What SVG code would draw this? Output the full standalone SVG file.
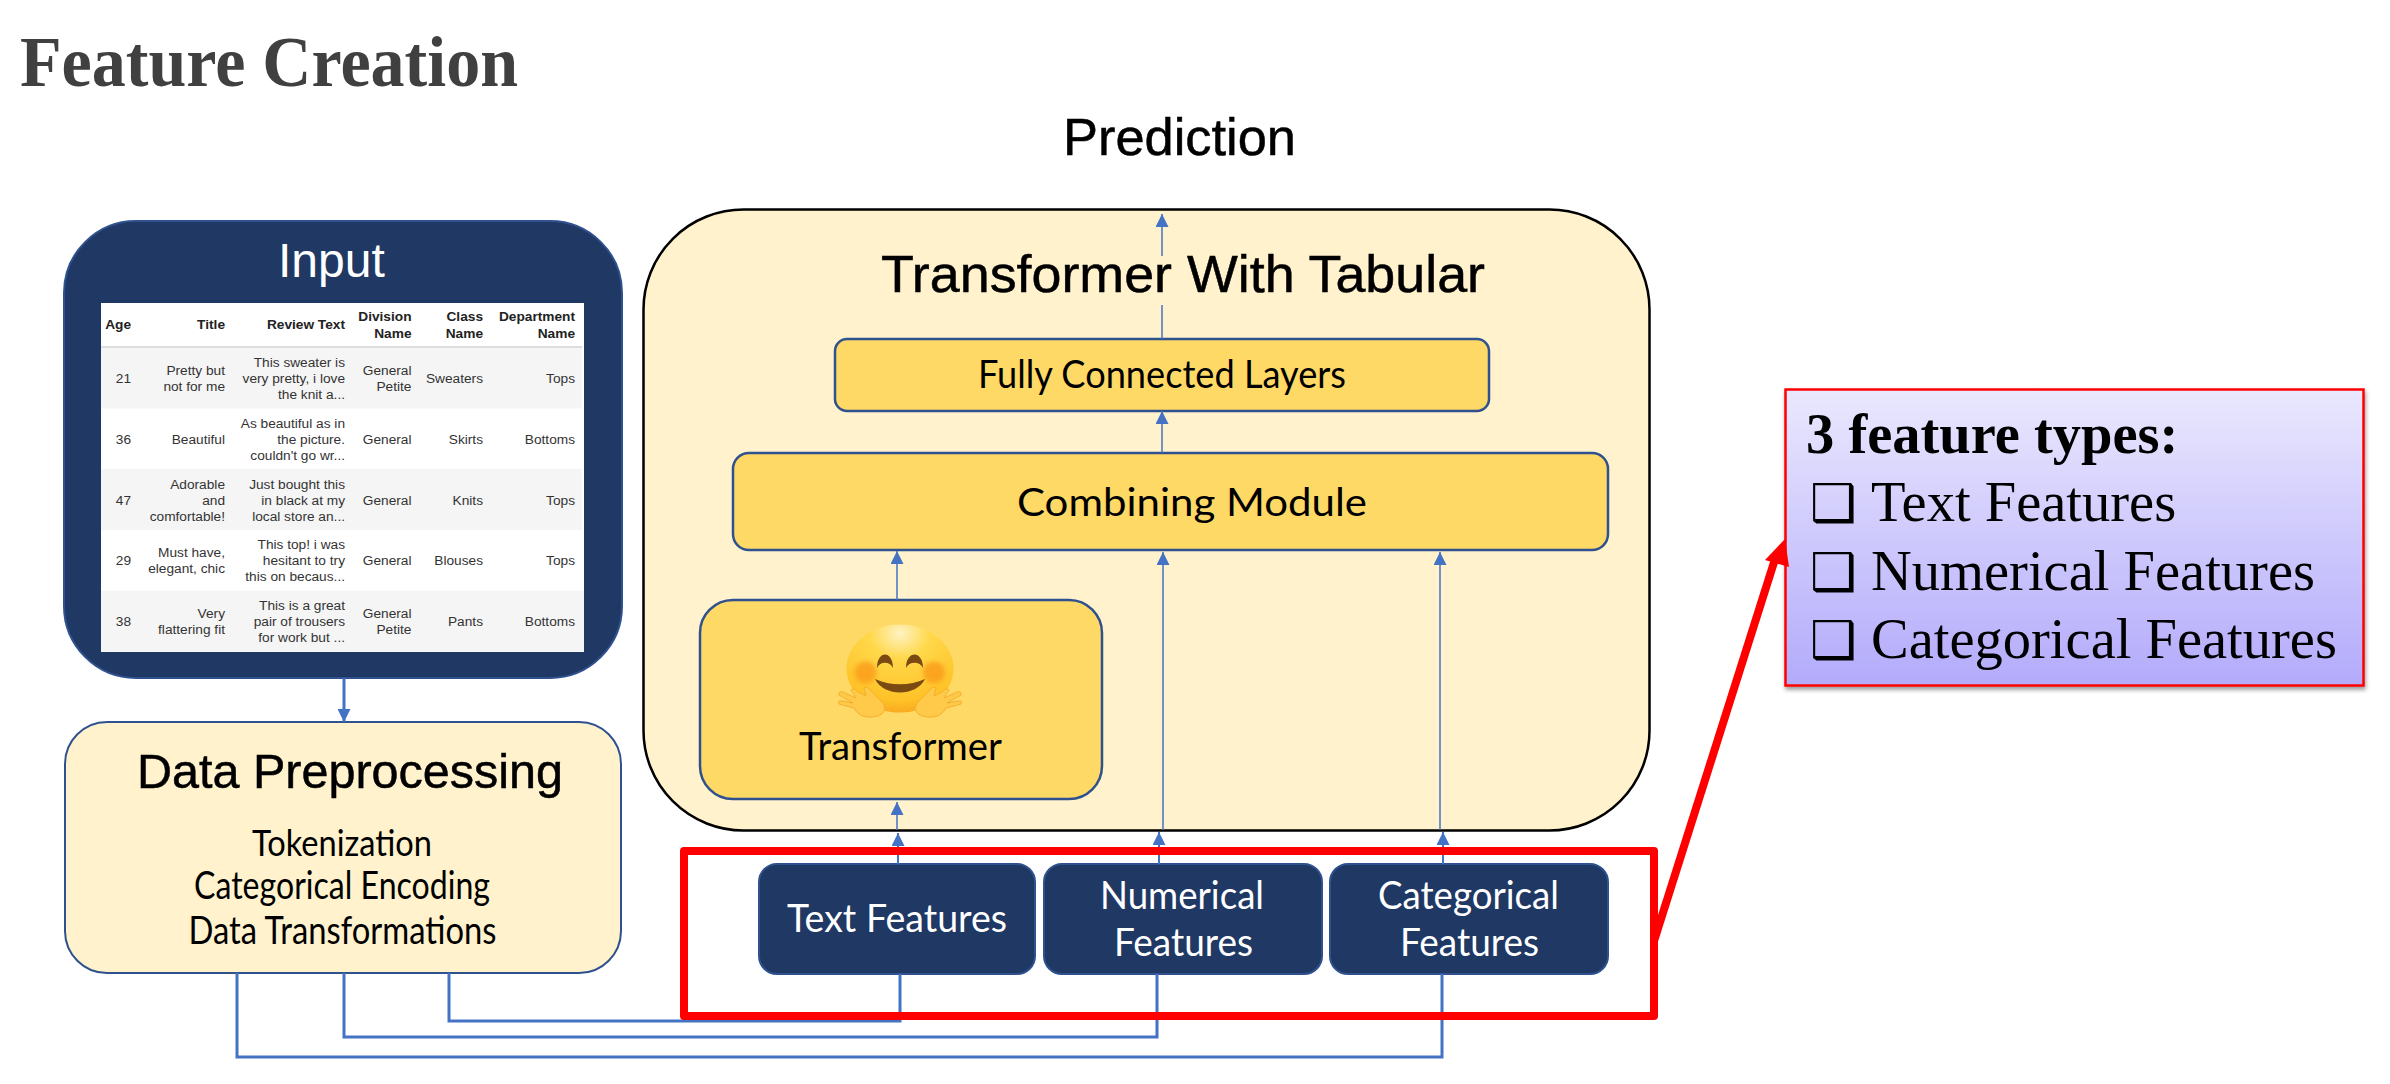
<svg xmlns="http://www.w3.org/2000/svg" width="2390" height="1084" viewBox="0 0 2390 1084">
<style>
text{font-family:"Liberation Sans",Arial,sans-serif}
.ser{font-family:"Liberation Serif","Times New Roman",serif}
.cal{font-family:Lato,"Open Sans",sans-serif;font-size:38px;fill:#000;text-anchor:start}
.w{fill:#fff}
.hd{font-size:52px;fill:#000;stroke:#000;stroke-width:.5}
.nav{fill:#203864;stroke:#2F528F;stroke-width:2}
.cr{fill:#FFF2CC;stroke:#2F528F;stroke-width:2}
.yel{fill:#FFD966;stroke:#2F528F;stroke-width:2.5}
.tb text{font-size:13.7px;fill:#333;text-anchor:end}
.tb .b{font-weight:bold;fill:#222}
.con{fill:none;stroke:#4472C4;stroke-width:3}
.thin{fill:none;stroke:#4472C4;stroke-width:1.5}
.cl{font-size:56.5px;fill:#000}
.ck{font-family:"DejaVu Sans",sans-serif;font-size:52px;fill:#000;font-weight:bold}
</style>
<defs>
<marker id="ah" markerUnits="userSpaceOnUse" markerWidth="13" markerHeight="13" refX="13" refY="6.5" orient="auto"><path d="M0 0L13 6.5L0 13Z" fill="#4472C4"/></marker>
<linearGradient id="cg" x1="0" y1="0" x2="0" y2="1"><stop offset="0" stop-color="#EAE8FE"/><stop offset="1" stop-color="#B3ABFB"/></linearGradient>
<radialGradient id="fg" cx="0.5" cy="0.1" r="0.95"><stop offset="0" stop-color="#FFF3C4"/><stop offset="0.3" stop-color="#FFD84A"/><stop offset="0.8" stop-color="#FFC227"/><stop offset="1" stop-color="#F7A21E"/></radialGradient>
<filter id="sh" x="-5%" y="-5%" width="110%" height="115%"><feDropShadow dx="1" dy="3" stdDeviation="2" flood-color="#000" flood-opacity="0.4"/></filter>
<filter id="bl" x="-30%" y="-30%" width="160%" height="160%"><feGaussianBlur stdDeviation="2"/></filter>
</defs>
<rect width="2390" height="1084" fill="#fff"/>

<g id="title"><text class="ser" x="20" y="86" font-size="71" font-weight="bold" fill="#404040" textLength="498" lengthAdjust="spacingAndGlyphs">Feature Creation</text></g>
<g id="prediction"><text class="hd" x="1063" y="155" textLength="233" lengthAdjust="spacingAndGlyphs">Prediction</text></g>

<g id="input">
<rect class="nav" x="64" y="221" width="558" height="457" rx="72"/>
<text class="w" x="278" y="277" font-size="48">Input</text>
<g class="tb">
<rect x="101" y="303" width="483" height="349" fill="#fff"/>
<rect x="101" y="346" width="481" height="2.5" fill="#ddd"/>
<rect x="101" y="348" width="481" height="60.5" fill="#f5f5f5"/>
<rect x="101" y="469" width="481" height="61" fill="#f5f5f5"/>
<rect x="101" y="590.5" width="483" height="61" fill="#f5f5f5"/>
<text class="b" x="131" y="329">Age</text><text class="b" x="225" y="329">Title</text><text class="b" x="345" y="329">Review Text</text>
<text class="b" x="411.5" y="321">Division</text><text class="b" x="411.5" y="337.5">Name</text>
<text class="b" x="483" y="321">Class</text><text class="b" x="483" y="337.5">Name</text>
<text class="b" x="575" y="321">Department</text><text class="b" x="575" y="337.5">Name</text>

<text x="131" y="383">21</text><text x="225" y="375">Pretty but</text><text x="225" y="391">not for me</text>
<text x="345" y="367">This sweater is</text><text x="345" y="383">very pretty, i love</text><text x="345" y="399">the knit a...</text>
<text x="411.5" y="375">General</text><text x="411.5" y="391">Petite</text><text x="483" y="383">Sweaters</text><text x="575" y="383">Tops</text>

<text x="131" y="444">36</text><text x="225" y="444">Beautiful</text>
<text x="345" y="428">As beautiful as in</text><text x="345" y="444">the picture.</text><text x="345" y="460">couldn't go wr...</text>
<text x="411.5" y="444">General</text><text x="483" y="444">Skirts</text><text x="575" y="444">Bottoms</text>

<text x="131" y="505">47</text><text x="225" y="489">Adorable</text><text x="225" y="505">and</text><text x="225" y="521">comfortable!</text>
<text x="345" y="489">Just bought this</text><text x="345" y="505">in black at my</text><text x="345" y="521">local store an...</text>
<text x="411.5" y="505">General</text><text x="483" y="505">Knits</text><text x="575" y="505">Tops</text>

<text x="131" y="565">29</text><text x="225" y="557">Must have,</text><text x="225" y="573">elegant, chic</text>
<text x="345" y="549">This top! i was</text><text x="345" y="565">hesitant to try</text><text x="345" y="581">this on becaus...</text>
<text x="411.5" y="565">General</text><text x="483" y="565">Blouses</text><text x="575" y="565">Tops</text>

<text x="131" y="626">38</text><text x="225" y="618">Very</text><text x="225" y="634">flattering fit</text>
<text x="345" y="610">This is a great</text><text x="345" y="626">pair of trousers</text><text x="345" y="642">for work but ...</text>
<text x="411.5" y="618">General</text><text x="411.5" y="634">Petite</text><text x="483" y="626">Pants</text><text x="575" y="626">Bottoms</text>
</g>
</g>

<g id="data-preprocessing">
<rect class="cr" x="65" y="722" width="556" height="251" rx="42"/>
<text class="hd" x="137" y="788" style="font-size:48px" textLength="426" lengthAdjust="spacingAndGlyphs">Data Preprocessing</text>
<text class="cal" x="252" y="856" textLength="180" lengthAdjust="spacingAndGlyphs" style="font-size:36px">Tokenization</text>
<text class="cal" x="194" y="899" textLength="296" lengthAdjust="spacingAndGlyphs">Categorical Encoding</text>
<text class="cal" x="188.5" y="944" textLength="308" lengthAdjust="spacingAndGlyphs">Data Transformations</text>
</g>

<g id="transformer-with-tabular">
<rect x="643.5" y="209.5" width="1006" height="621" rx="100" fill="#FFF2CC" stroke="#000" stroke-width="2.5"/>
<text class="hd" x="881" y="292" textLength="604" lengthAdjust="spacingAndGlyphs">Transformer With Tabular</text>
</g>

<g id="fully-connected-layers">
<rect class="yel" x="835" y="339" width="654" height="72" rx="12"/>
<text class="cal" x="978" y="388" textLength="368" lengthAdjust="spacingAndGlyphs">Fully Connected Layers</text>
</g>
<g id="combining-module">
<rect class="yel" x="733" y="453" width="875" height="97" rx="16"/>
<text class="cal" x="1017" y="516" textLength="350" lengthAdjust="spacingAndGlyphs">Combining Module</text>
</g>
<g id="transformer">
<rect class="yel" x="700" y="600" width="402" height="199" rx="33"/>
<g id="hugging-face">
<ellipse cx="900" cy="668.5" rx="53.5" ry="44" fill="url(#fg)"/>
<circle cx="865.5" cy="672.5" r="11" fill="#FB9F1C" opacity=".85" filter="url(#bl)"/>
<circle cx="934" cy="672.5" r="11" fill="#FB9F1C" opacity=".85" filter="url(#bl)"/>
<path d="M877 668C877 650 893 650 893 668C890 661 880 661 877 668ZM906 668C906 650 923 650 923 668C920 661 909 661 906 668Z" fill="#7B4A12"/>
<path d="M875 679C890 686 910 686 925 679C916 697 884 697 875 679Z" fill="#7B4A12"/>
<path d="M878 716C866 719 858 716 854 708L839 704Q837 700 842 701L853 703L839 695Q838 691 843 692L856 698L851 690Q854 687 858 692L866 696L864 688Q868 686 871 691L883 703Q888 712 878 716Z" fill="#FFC94A" stroke="#F5B02E" stroke-width="1"/>
<path d="M922 716C934 719 942 716 946 708L961 704Q963 700 958 701L947 703L961 695Q962 691 957 692L944 698L949 690Q946 687 942 692L934 696L936 688Q932 686 929 691L917 703Q912 712 922 716Z" fill="#FFC94A" stroke="#F5B02E" stroke-width="1"/>
</g>
<text class="cal" x="799" y="760" textLength="203" lengthAdjust="spacingAndGlyphs">Transformer</text>
</g>

<g id="text-features"><rect class="nav" x="759" y="864" width="276" height="110" rx="18"/>
<text class="cal" x="787" y="932" textLength="220" lengthAdjust="spacingAndGlyphs" style="fill:#fff">Text Features</text></g>
<g id="numerical-features"><rect class="nav" x="1044" y="864" width="278" height="110" rx="18"/>
<text class="cal" x="1100" y="909" textLength="164" lengthAdjust="spacingAndGlyphs" style="fill:#fff">Numerical</text>
<text class="cal" x="1114" y="956" textLength="139" lengthAdjust="spacingAndGlyphs" style="fill:#fff">Features</text></g>
<g id="categorical-features"><rect class="nav" x="1330" y="864" width="278" height="110" rx="18"/>
<text class="cal" x="1378" y="909" textLength="181" lengthAdjust="spacingAndGlyphs" style="fill:#fff">Categorical</text>
<text class="cal" x="1400" y="956" textLength="139" lengthAdjust="spacingAndGlyphs" style="fill:#fff">Features</text></g>

<g id="callout">
<rect x="1785.5" y="389.5" width="578" height="296" fill="url(#cg)" stroke="#FF0000" stroke-width="2.5" filter="url(#sh)"/>
<text class="ser cl" x="1806" y="453" font-weight="bold">3 feature types:</text>
<text class="ck" x="1810" y="521">❑</text><text class="ser cl" x="1871" y="521">Text Features</text>
<text class="ck" x="1810" y="590">❑</text><text class="ser cl" x="1871" y="590">Numerical Features</text>
<text class="ck" x="1810" y="658">❑</text><text class="ser cl" x="1871" y="658">Categorical Features</text>
</g>

<g id="connectors">
<path class="con" d="M344 678V722" marker-end="url(#ah)"/>
<path class="thin" d="M1162 339V305"/><path class="thin" d="M1162 256V214" marker-end="url(#ah)"/>
<path class="thin" d="M1162 453V411" marker-end="url(#ah)"/>
<path class="thin" d="M897 600V551" marker-end="url(#ah)"/>
<path class="thin" d="M897 830V802" marker-end="url(#ah)"/>
<path class="thin" d="M1163 830V552" marker-end="url(#ah)"/>
<path class="thin" d="M1440 830V552" marker-end="url(#ah)"/>
<path class="con" d="M898 864V833" style="stroke-width:2" marker-end="url(#ah)"/>
<path class="con" d="M1159 864V832" style="stroke-width:2" marker-end="url(#ah)"/>
<path class="con" d="M1443 864V832" style="stroke-width:2" marker-end="url(#ah)"/>
<path class="con" d="M449 973V1021H900V974"/>
<path class="con" d="M344 973V1037H1157V974"/>
<path class="con" d="M237 973V1057H1442V974"/>
</g>

<g id="highlight">
<rect x="684" y="851" width="970" height="165" fill="none" stroke="#FF0000" stroke-width="8" stroke-linejoin="round"/>
<path d="M1654 941L1776 556" fill="none" stroke="#FF0000" stroke-width="8"/>
<path d="M1785 539L1765 560L1789 567Z" fill="#FF0000"/>
</g>
</svg>
